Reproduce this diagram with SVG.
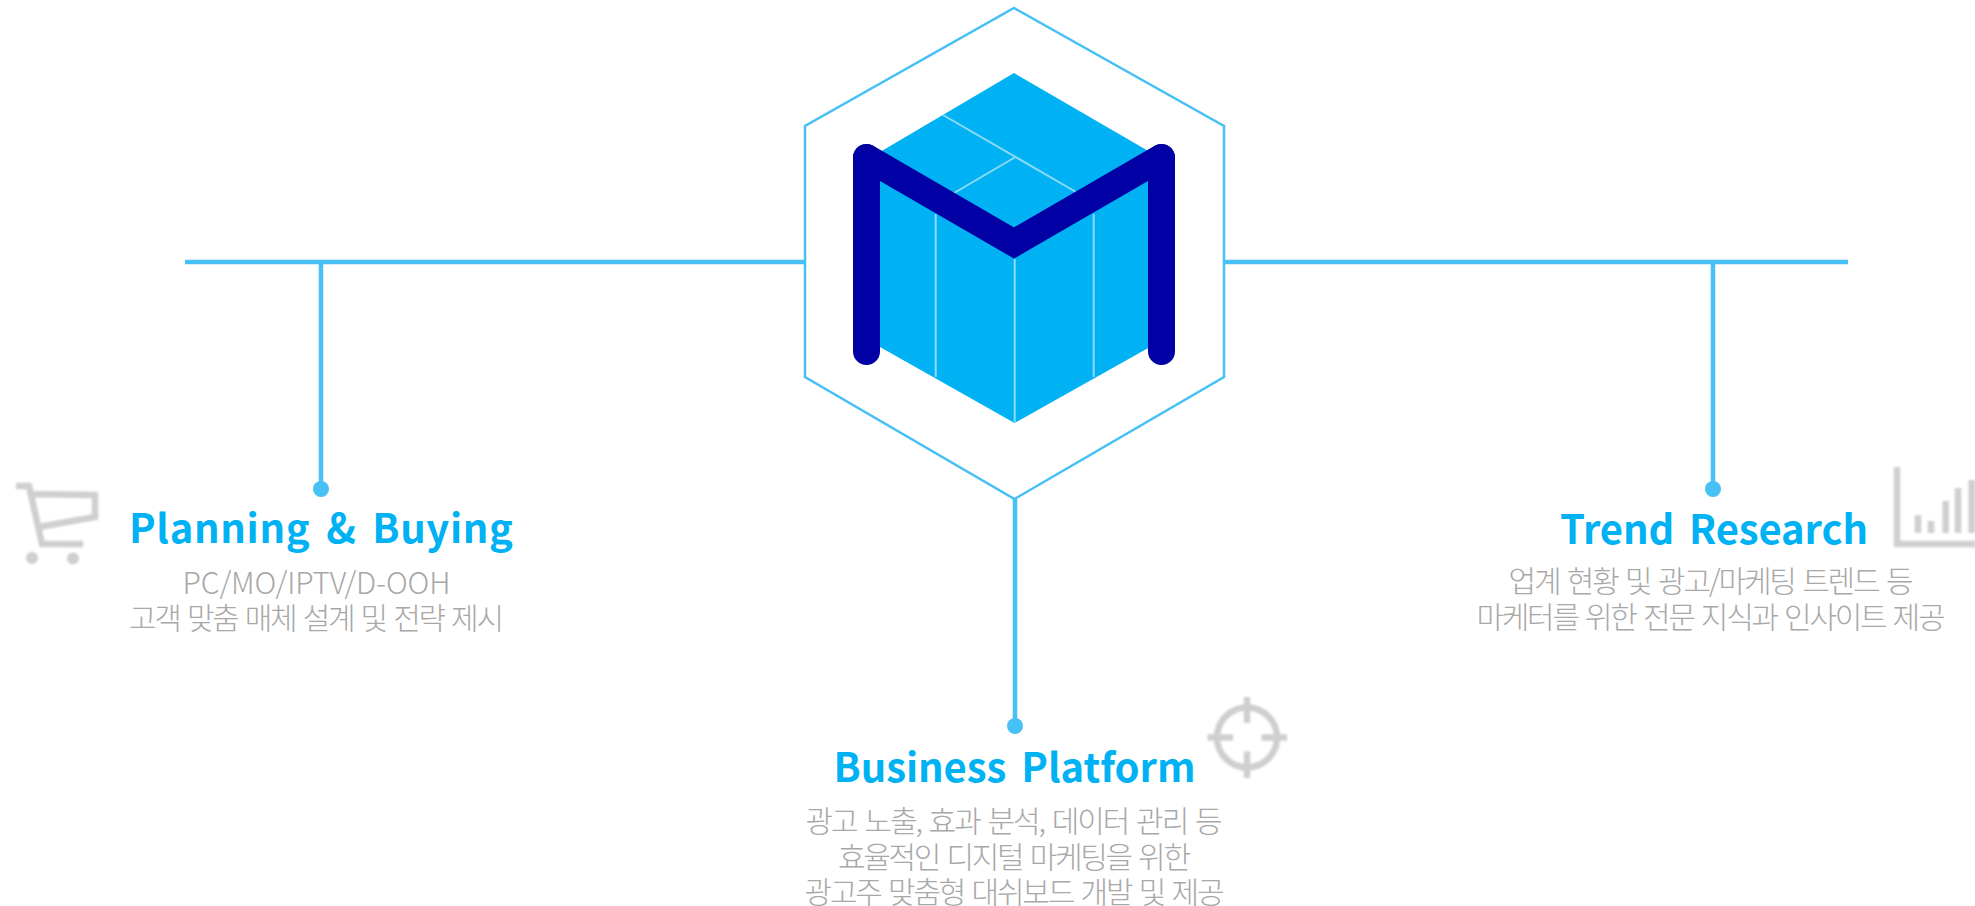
<svg xmlns="http://www.w3.org/2000/svg" width="1975" height="906" viewBox="0 0 1975 906">
<style>
.ln{stroke:#47c0f5;stroke-width:4.500;fill:none}
.dot{fill:#47c0f5}
.ttl{font-family:"Noto Sans CJK KR","Open Sans",sans-serif;font-weight:700;font-size:40px;word-spacing:6px;fill:#00b2f3;text-anchor:middle}
.dsc{font-family:"Noto Sans CJK KR","Noto Sans",sans-serif;font-weight:300;font-size:30px;word-spacing:3px;fill:#a8a8a8;text-anchor:middle}
.ic{stroke:#cfcfcf;stroke-width:6.500;fill:none;filter:url(#soft)}
.cl{stroke:#8bdbf9;stroke-width:2;fill:none}
.m{fill:none;stroke:#0000a5;stroke-width:27;stroke-linecap:round;stroke-miterlimit:4}
</style>
<defs><filter id="soft" x="-10%" y="-10%" width="120%" height="120%"><feGaussianBlur stdDeviation="1.100"/></filter></defs>
<rect width="1975" height="906" fill="#fff"/>
<g id="connectors">
<path class="ln" d="M185 262H805M1224 262H1848M321 262V489M1713 262V489M1015 499V726"/>
<circle class="dot" cx="321" cy="489" r="8"/>
<circle class="dot" cx="1713" cy="489" r="8"/>
<circle class="dot" cx="1015" cy="726" r="8"/>
</g>
<g id="hub">
<polygon points="1014,8 1224,126 1224,377 1014.500,499 805,377 805,126" fill="#fff" stroke="#47c0f5" stroke-width="2.500"/>
<polygon points="1014,73 1150,152 1150,347 1014.500,423 880,347 880,152" fill="#00b2f3"/>
<path class="cl" d="M943 115L1076 192M954 193L1015.500 157M935.700 214V377M1014.700 259V422M1093.700 214V377"/>
<path class="m" d="M866.500 157.500L1014 243L1161.500 157.500"/>
<path class="m" d="M866.500 351.500V157.500M1161.500 351.500V157.500"/>
</g>
<g id="planning">
<path class="ic" d="M16 486H29L42 544H83M30 494L95 495V517L39 527"/>
<g filter="url(#soft)" fill="#cfcfcf"><circle cx="32" cy="558" r="6"/><circle cx="73" cy="558.500" r="6"/></g>
<text class="ttl" x="321" y="543" textLength="384">Planning &amp; Buying</text>
<text class="dsc" x="316.500" y="594" textLength="268">PC/MO/IPTV/D-OOH</text>
<text class="dsc" x="316.500" y="628.500" textLength="375">고객 맞춤 매체 설계 및 전략 제시</text>
</g>
<g id="business">
<path class="ic" d="M1247 697V723M1247 751.500V778M1207.500 737.400H1233M1261.500 737.400H1287"/>
<circle class="ic" cx="1247" cy="737.400" r="30"/>
<text class="ttl" x="1014.500" y="781.500" textLength="362">Business Platform</text>
<text class="dsc" x="1014" y="832" textLength="417">광고 노출, 효과 분석, 데이터 관리 등</text>
<text class="dsc" x="1014.500" y="868" textLength="353">효율적인 디지털 마케팅을 위한</text>
<text class="dsc" x="1014.500" y="903" textLength="420">광고주 맞춤형 대쉬보드 개발 및 제공</text>
</g>
<g id="trend">
<path class="ic" d="M1897 467V544H1975M1918 515V533M1931 521V533M1945.700 501V533M1958 488V533M1971.700 480V533"/>
<text class="ttl" x="1714" y="543.500" textLength="308">Trend Research</text>
<text class="dsc" x="1711" y="592" textLength="405">업계 현황 및 광고/마케팅 트렌드 등</text>
<text class="dsc" x="1711" y="628" textLength="469">마케터를 위한 전문 지식과 인사이트 제공</text>
</g>
</svg>
